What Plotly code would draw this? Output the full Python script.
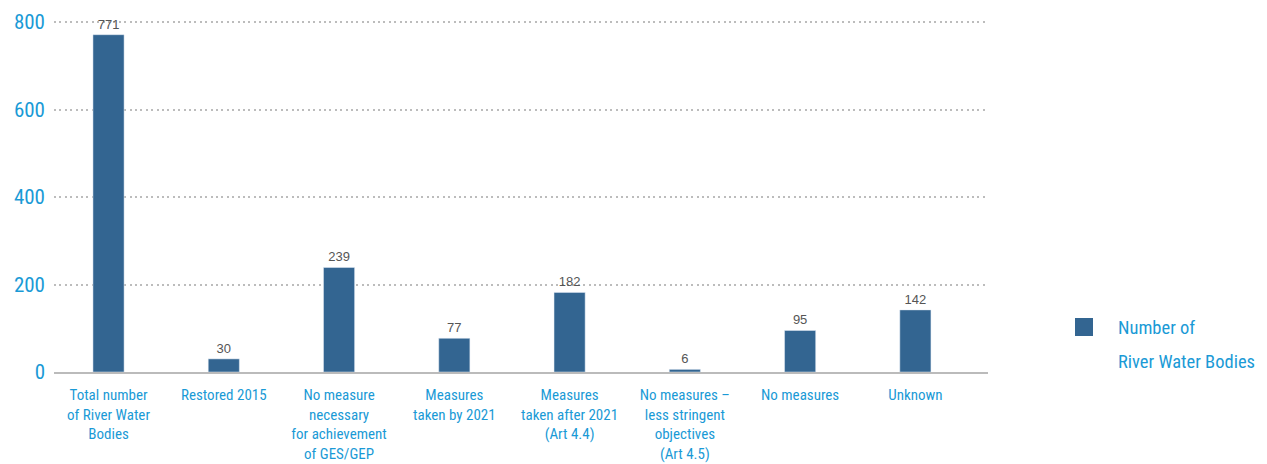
import plotly.graph_objects as go

categories = [
    "Total number<br>of River Water<br>Bodies",
    "Restored 2015",
    "No measure<br>necessary<br>for achievement<br>of GES/GEP",
    "Measures<br>taken by 2021",
    "Measures<br>taken after 2021<br>(Art 4.4)",
    "No measures –<br>less stringent<br>objectives<br>(Art 4.5)",
    "No measures",
    "Unknown",
]
values = [771, 30, 239, 77, 182, 6, 95, 142]
legend_lines = ["Number of", "River Water Bodies"]
y_ticks = [0, 200, 400, 600, 800]

BLUE = "#1a9ad6"
BAR = "#336591"
FONT = "Roboto Condensed, Liberation Sans Narrow, Roboto, sans-serif"

fig = go.Figure()
fig.add_trace(go.Bar(
    x=list(range(len(categories))),
    y=values,
    name=" ".join(legend_lines),
    marker=dict(color=BAR),
    width=0.27,
    text=[str(v) for v in values],
    textposition="outside",
    textfont=dict(family="Arial, Liberation Sans, sans-serif", size=13, color="#555555"),
    cliponaxis=False,
    showlegend=False,
))

# custom legend (symbol aligned with first line, wide line spacing)
fig.add_shape(type="rect", xref="paper", yref="paper",
              x0=(1075 - 54) / 934, x1=(1093 - 54) / 934,
              y0=(372 - 336) / 354, y1=(372 - 318) / 354,
              fillcolor=BAR, line=dict(width=0))
for i, line in enumerate(legend_lines):
    fig.add_annotation(xref="paper", yref="paper",
                       x=(1116 - 54) / 934, y=(372 - (328 + 34 * i)) / 354,
                       xanchor="left", yanchor="middle", showarrow=False,
                       text=line, font=dict(size=18.5, color=BLUE, family=FONT))

fig.update_layout(
    width=1259, height=456,
    margin=dict(l=46, r=279, t=10, b=92),
    plot_bgcolor="white", paper_bgcolor="white",
    font=dict(family=FONT, color=BLUE),
    showlegend=False,
    xaxis=dict(
        tickmode="array",
        tickvals=list(range(len(categories))),
        ticktext=categories,
        range=[-0.473, 7.63],
        showgrid=False,
        showline=True,
        linecolor="#bbbbbb",
        linewidth=2,
        ticks="",
        tickfont=dict(size=15, color=BLUE, family=FONT),
        zeroline=False,
        automargin=False,
        ticklabelstandoff=8,
    ),
    yaxis=dict(
        range=[0, 800 * 354 / 350],
        tickvals=y_ticks,
        showgrid=True,
        gridcolor="#bcbcbc",
        griddash="2px,3.4px",
        gridwidth=2,
        zeroline=False,
        showline=False,
        ticks="",
        tickfont=dict(size=21, color=BLUE, family=FONT),
        ticklabelstandoff=8,
        automargin=False,
    ),
)

fig.write_html("out.html")
